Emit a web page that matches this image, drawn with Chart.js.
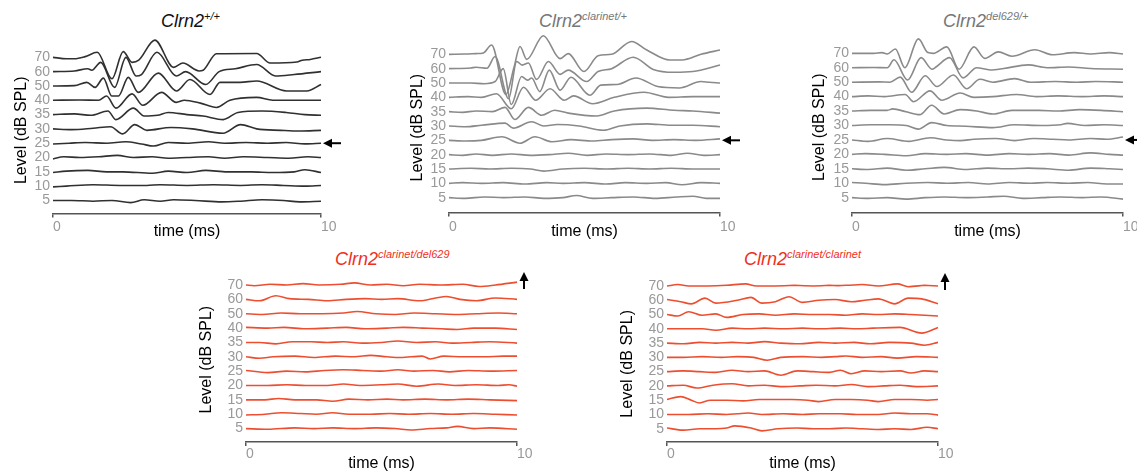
<!DOCTYPE html>
<html lang="en">
<head>
<meta charset="UTF-8">
<title>ABR traces</title>
<script src="https://cdn.jsdelivr.net/npm/chart.js"></script>
<style>
  body { margin: 0; width: 1137px; height: 471px; overflow: hidden; background: #fff; position: relative;
         font-family: "Liberation Sans", Arial, sans-serif; }
  canvas { position: absolute; }
  .ttl { position: absolute; font-style: italic; font-size: 18px; line-height: 18px; white-space: nowrap; }
  .ttl sup { font-size: 11px; position: relative; top: -7px; vertical-align: baseline; line-height: 0; }
</style>
</head>
<body>
<div class="ttl" style="left:161px;top:12px;color:#111">Clrn2<sup>+/+</sup></div>
<div class="ttl" style="left:539px;top:12px;color:#777">Clrn2<sup>clarinet/+</sup></div>
<div class="ttl" style="left:943px;top:12px;color:#777">Clrn2<sup>del629/+</sup></div>
<div class="ttl" style="left:335px;top:250px;color:#f0301e">Clrn2<sup>clarinet/del629</sup></div>
<div class="ttl" style="left:744px;top:250px;color:#f0301e">Clrn2<sup>clarinet/clarinet</sup></div>
<canvas id="c1"></canvas>
<canvas id="c2"></canvas>
<canvas id="c3"></canvas>
<canvas id="c4"></canvas>
<canvas id="c5"></canvas>
<script>
// stimulus levels, top trace first
const levels = ['70', '60', '50', '40', '35', '30', '25', '20', '15', '10', '5'];

// each trace: [time ms, deflection in trace spacings], 70 dB first
const wtTraces = [
  [[0,0],[0.5,-0.1],[0.8,-0.1],[1.2,0.05],[1.65,0.35],[2.2,-1.5],[2.62,0.4],[2.95,-0.35],[3.2,-0.2],[3.8,1.2],[4.5,-0.7],[4.85,-0.4],[5.45,-0.95],[5.6,-0.9],[6.1,0.25],[7.6,0.27],[8.1,-0.4],[9.1,-0.33],[9.3,-0.2],[9.6,-0.15],[10,0]],
  [[0,0],[0.8,0.05],[1.3,0.2],[1.45,0.1],[1.78,0.65],[2.3,-1.1],[2.72,1.0],[3.1,-0.3],[3.3,-0.2],[3.88,1.35],[4.6,-0.3],[4.95,0.0],[5.7,-0.9],[6.2,0],[6.8,0.2],[7.6,0.5],[8.3,-0.3],[9,-0.2],[10,0]],
  [[0,0],[0.8,0.02],[1.26,0.25],[1.57,-0.1],[1.88,0.55],[2.19,-0.7],[2.44,-0.7],[2.81,0.6],[3.18,-0.45],[3.93,0.9],[4.61,-0.35],[5.11,0.45],[5.86,-0.6],[6.23,0.25],[6.98,0.25],[7.6,0.35],[8.72,-0.35],[9.47,-0.35],[10,0.1]],
  [[0,0],[1.0,0.02],[1.7,0.0],[2.0,0.3],[2.35,-0.55],[2.95,0.45],[3.35,-0.35],[4.05,0.55],[4.6,-0.15],[4.9,0.0],[5.5,-0.2],[6.1,-0.5],[6.6,0.0],[7.6,0.2],[8.2,0.0],[9,0.0],[10,0]],
  [[0,0],[0.8,0.05],[1.4,-0.05],[2.05,0.25],[2.35,-0.35],[3.0,0.45],[3.4,-0.1],[3.9,-0.05],[4.3,0.15],[5.0,0.0],[5.6,-0.1],[6.35,-0.35],[6.9,0.15],[7.8,0.25],[8.7,0.15],[9.4,0.0],[10,-0.05]],
  [[0,0],[0.7,-0.05],[1.5,0.05],[2.15,0.15],[2.6,-0.35],[3.05,0.3],[3.5,-0.1],[4.4,0.1],[5.2,0.0],[6.35,-0.3],[7.0,0.3],[7.6,0.0],[8.5,-0.1],[9.2,-0.15],[10,-0.1]],
  [[0,-0.05],[0.6,0.0],[1.2,0.05],[2.0,0.0],[2.7,0.1],[3.3,-0.05],[3.75,-0.2],[4.3,0.05],[5.0,0.0],[5.8,0.1],[6.4,0.0],[7.2,0.05],[8.0,0.0],[8.7,0.05],[9.4,-0.05],[10,0.0]],
  [[0,-0.1],[0.4,0.05],[1.0,0.0],[1.7,0.05],[2.4,0.15],[3.0,0.0],[3.7,0.05],[4.3,-0.05],[5.0,0.0],[5.8,0.05],[6.4,-0.05],[7.1,0.05],[8.0,0.0],[8.8,-0.05],[9.5,0.05],[10,0.0]],
  [[0,-0.05],[0.5,0.05],[1.3,0.1],[2.0,0.0],[2.6,0.0],[3.7,-0.1],[4.3,0.05],[5.0,-0.05],[5.7,0.1],[6.5,0.0],[7.4,0.0],[8.2,-0.05],[9.0,0.0],[9.4,0.15],[10,-0.05]],
  [[0,-0.05],[0.5,0.0],[1.5,0.1],[2.5,0.05],[3.5,0.05],[4.0,0.1],[5.0,0.05],[6.0,0.1],[7.0,0.05],[7.8,0.1],[8.6,0.05],[9.4,0.0],[10,0.05]],
  [[0,0],[0.7,0.0],[1.5,-0.05],[2.2,0.0],[2.9,-0.15],[3.4,0.05],[4.0,-0.05],[4.5,0.05],[5.3,0.0],[6.3,-0.1],[7.0,-0.05],[7.8,0.05],[8.6,0.0],[9.2,-0.1],[10,-0.05]]
];

const clarHetTraces = [
  [[0,0],[0.6,0.02],[1.0,0.05],[1.27,0.1],[1.57,0.65],[2.1,-2.8],[2.4,-0.9],[2.62,0.55],[2.87,-0.35],[3.48,1.3],[4.1,-0.3],[4.4,0.05],[4.98,-1.2],[5.5,-0.1],[6.0,0.0],[6.74,0.9],[7.3,0.3],[8.15,-0.4],[8.6,-0.4],[9.3,0.0],[10,0.3]],
  [[0,0],[0.8,0.05],[1.0,0.1],[1.4,0.03],[1.7,0.85],[2.2,-2.1],[2.5,0.5],[2.7,0.25],[2.93,0.4],[3.23,-0.75],[3.67,0.5],[4.1,-0.4],[4.4,-0.1],[5.08,-0.9],[5.5,-0.2],[6.0,0.0],[6.8,0.8],[7.54,-0.05],[8.3,-0.25],[9.0,-0.2],[10,0.25]],
  [[0,0],[0.8,0.0],[1.3,-0.05],[1.7,0.1],[2.0,1.0],[2.3,-1.5],[2.68,0.45],[2.9,0.2],[3.05,0.35],[3.35,-0.6],[3.7,0.9],[4.1,-0.5],[4.5,0.4],[5.2,-0.85],[5.6,-0.15],[6.2,-0.1],[6.9,0.35],[7.7,-0.25],[8.5,-0.35],[9.3,0.1],[9.6,0.05],[10,0.0]],
  [[0,0],[0.7,0.05],[1.2,0.0],[1.75,0.25],[2.3,-0.8],[2.75,0.7],[3.2,-0.2],[3.73,0.6],[4.25,-0.2],[4.6,0.1],[5.3,-0.45],[6.1,0.0],[7.2,0.35],[8.1,0.0],[9.0,0.05],[10,0.05]],
  [[0,0],[0.5,-0.05],[1.0,0.05],[1.6,0.0],[2.07,0.3],[2.43,-0.55],[2.93,0.3],[3.42,-0.25],[3.9,0.1],[4.4,-0.1],[5.45,-0.3],[6.1,0.05],[7.3,0.25],[8.3,0.1],[9.0,0.05],[10,-0.1]],
  [[0,0],[0.6,-0.05],[1.2,0.05],[2.07,0.2],[2.37,-0.15],[3.05,0.3],[3.5,0.0],[4.0,0.1],[4.8,0.0],[5.7,-0.3],[6.3,0.0],[7.3,0.15],[8.2,0.05],[9.0,0.05],[10,-0.05]],
  [[0,0],[0.6,-0.05],[1.2,0.0],[1.95,0.25],[2.62,-0.2],[3.17,0.25],[3.8,-0.1],[4.5,0.05],[5.3,-0.05],[6.0,0.05],[6.8,0.1],[7.5,0.0],[8.3,0.05],[9.1,0.0],[10,0.1]],
  [[0,0],[0.5,-0.05],[1.0,0.05],[1.6,-0.05],[2.3,0.05],[3.0,-0.05],[3.7,0.0],[4.4,0.1],[5.1,-0.05],[5.8,0.05],[6.6,0.0],[7.4,0.05],[8.2,-0.05],[8.8,0.1],[9.4,-0.05],[10,0.0]],
  [[0,0],[0.8,0.05],[1.5,0.0],[2.3,0.05],[3.0,0.0],[3.5,-0.15],[4.2,0.0],[5.0,0.05],[5.8,0.0],[6.6,0.05],[7.4,0.0],[8.2,0.05],[9.0,0.0],[10,0.0]],
  [[0,0],[0.5,0.05],[1.2,0.0],[2.0,0.05],[2.8,-0.05],[3.6,0.05],[4.2,0.0],[5.0,0.05],[5.8,-0.05],[6.5,0.05],[7.3,0.0],[8.0,0.05],[8.6,-0.1],[9.3,0.05],[10,0.0]],
  [[0,0],[0.6,-0.05],[1.3,0.05],[2.0,0.0],[2.8,0.05],[3.5,-0.05],[4.2,0.0],[4.7,0.15],[5.3,-0.05],[6.0,0.0],[6.8,0.05],[7.6,-0.05],[8.4,0.05],[9.0,0.1],[9.5,-0.05],[10,-0.05]]
];

const delHetTraces = [
  [[0,0],[0.8,0.0],[1.1,0.05],[1.3,-0.05],[1.6,0.3],[1.95,-1.0],[2.45,1.0],[2.8,0.05],[3.0,0.0],[3.5,0.45],[3.95,-1.1],[4.5,0.45],[4.9,-0.35],[5.4,0.1],[5.9,-0.2],[6.75,0.25],[7.4,-0.1],[8.2,0.05],[8.8,-0.05],[9.5,0.05],[10,-0.05]],
  [[0,0],[0.8,0.02],[1.3,0.0],[1.55,0.55],[2.05,-0.85],[2.55,0.7],[2.95,-0.1],[3.1,0.05],[3.6,0.7],[4.1,-0.7],[4.6,0.0],[5.1,-0.15],[5.6,-0.05],[6.5,0.2],[7.2,0.0],[8.0,0.05],[8.8,-0.05],[10,-0.1]],
  [[0,0],[1.0,0.02],[1.4,0.0],[1.78,0.35],[2.2,-0.7],[2.7,0.45],[3.13,-0.3],[3.74,0.5],[4.23,-0.45],[4.72,0.2],[5.2,0.0],[6.0,0.25],[6.6,0.0],[7.5,0.05],[8.3,0.0],[9.0,0.05],[10,0.0]],
  [[0,0],[0.6,0.05],[1.2,0.0],[1.96,0.15],[2.27,-0.35],[2.88,0.4],[3.31,-0.25],[3.99,0.25],[4.5,-0.05],[5.2,0.0],[6.07,0.15],[6.8,0.0],[7.6,0.05],[8.5,0.0],[9.3,0.05],[10,0.0]],
  [[0,0],[0.7,0.05],[1.3,0.05],[1.5,0.15],[2.0,-0.05],[2.5,-0.25],[2.94,0.4],[3.4,-0.2],[3.99,0.1],[4.6,0.0],[5.2,-0.2],[5.9,0.05],[6.9,0.05],[7.6,0.0],[8.4,0.1],[9.2,0.05],[10,-0.05]],
  [[0,0],[0.7,0.05],[1.4,0.05],[2.0,0.0],[2.45,-0.25],[2.94,0.2],[3.5,0.0],[4.2,-0.05],[5.2,-0.15],[6.0,0.05],[7.0,0.0],[7.7,0.05],[7.95,0.15],[8.6,0.0],[9.3,0.05],[10,0.0]],
  [[0,0],[0.6,-0.1],[1.3,0.1],[2.1,-0.1],[2.9,0.15],[3.5,0.0],[4.0,-0.05],[4.5,0.05],[5.3,0.1],[6.0,-0.05],[6.7,0.1],[7.4,0.05],[8.0,0.0],[8.8,0.1],[9.4,0.05],[10,0.2]],
  [[0,0],[0.5,0.05],[1.2,0.0],[2.0,-0.1],[2.7,0.05],[3.5,0.0],[4.2,0.05],[5.0,-0.05],[5.8,0.05],[6.5,0.0],[7.3,0.05],[8.0,-0.05],[8.8,0.1],[9.5,0.0],[10,-0.05]],
  [[0,0],[0.6,-0.05],[1.3,0.05],[2.0,-0.1],[2.7,0.0],[3.4,0.1],[4.2,-0.05],[5.0,0.05],[5.8,0.0],[6.5,0.05],[7.2,0.0],[8.0,-0.1],[8.8,0.05],[9.5,0.0],[10,-0.05]],
  [[0,0.05],[0.5,0.0],[1.2,-0.1],[2.0,0.0],[2.8,0.05],[3.5,0.0],[4.3,0.05],[5.0,-0.05],[5.8,0.05],[6.6,0.0],[7.2,0.05],[8.0,0.0],[8.7,0.05],[9.4,-0.05],[10,-0.05]],
  [[0,0],[0.6,-0.05],[1.3,0.0],[2.0,-0.1],[2.7,0.0],[3.4,0.05],[4.2,0.0],[5.0,0.05],[5.6,0.1],[6.3,-0.05],[7.0,0.0],[7.7,0.05],[8.5,0.0],[9.2,0.05],[10,-0.1]]
];

const clarDelTraces = [
  [[0,0],[0.3,-0.05],[0.9,0.05],[1.5,0.0],[2.1,0.1],[2.7,0.0],[3.5,0.05],[4.0,0.15],[4.6,0.0],[5.2,0.05],[5.8,-0.05],[6.4,0.05],[7.2,0.0],[8.0,0.05],[8.6,-0.1],[9.2,0.0],[10,0.2]],
  [[0,0.0],[0.5,-0.1],[1.1,0.25],[1.6,0.05],[2.3,0.0],[3.0,-0.1],[3.7,0.0],[4.4,0.05],[5.0,0.0],[5.6,0.05],[6.4,-0.1],[7.0,0.1],[7.4,0.2],[7.9,0.0],[8.5,-0.1],[9.2,0.1],[10,0.0]],
  [[0,0.0],[0.6,-0.05],[1.3,0.05],[2.0,0.0],[2.8,0.0],[3.6,0.05],[4.1,0.15],[4.8,0.0],[5.5,-0.05],[6.2,0.05],[7.0,0.0],[7.8,-0.05],[8.5,0.0],[9.3,0.05],[10,0.0]],
  [[0,0.05],[0.8,0.0],[1.4,0.05],[2.2,-0.05],[3.0,0.0],[3.7,0.05],[4.4,-0.05],[5.2,0.0],[5.8,0.05],[6.5,0.0],[7.2,-0.05],[7.8,-0.1],[8.4,0.0],[9.2,0.0],[10,-0.1]],
  [[0,0.0],[0.5,0.0],[1.1,-0.1],[1.7,0.05],[2.4,0.05],[3.0,0.0],[3.6,0.05],[4.3,-0.05],[5.0,0.0],[5.6,0.1],[6.3,0.0],[7.0,0.05],[7.6,-0.05],[8.3,0.0],[9.0,0.05],[10,-0.05]],
  [[0,0.0],[0.5,-0.1],[1.0,0.0],[1.8,0.05],[2.5,-0.05],[3.3,0.05],[4.0,0.0],[4.6,0.1],[5.2,0.0],[5.7,-0.05],[6.5,0.05],[6.8,-0.15],[7.3,0.05],[8.0,0.0],[8.8,0.0],[9.5,0.05],[10,0.05]],
  [[0,0.05],[0.8,-0.1],[1.5,0.0],[2.2,-0.05],[2.9,0.05],[3.6,0.1],[4.3,0.05],[5.0,0.0],[5.6,0.1],[6.2,0.0],[6.9,0.05],[7.5,-0.05],[8.2,0.05],[9.0,0.0],[10,0.05]],
  [[0,0.0],[0.8,0.0],[1.5,0.05],[2.2,0.0],[3.0,0.0],[3.6,0.1],[4.2,0.0],[5.0,0.05],[5.6,0.1],[6.3,-0.05],[7.1,0.1],[7.7,0.0],[8.5,0.05],[9.3,0.0],[9.7,0.05],[10,-0.05]],
  [[0,0.0],[0.7,0.0],[1.2,0.1],[1.8,0.0],[2.6,0.0],[3.2,-0.1],[3.8,0.05],[4.5,0.0],[5.2,0.05],[5.8,0.0],[6.6,0.05],[7.4,0.0],[8.2,0.05],[9.0,0.0],[10,-0.05]],
  [[0,-0.05],[0.7,0.0],[1.3,0.1],[2.0,0.05],[2.6,0.0],[3.2,0.1],[3.8,0.0],[4.6,0.0],[5.3,0.05],[6.0,0.0],[6.8,0.05],[7.6,0.0],[8.4,0.05],[9.2,0.0],[10,-0.05]],
  [[0,0.0],[0.8,-0.05],[1.8,0.05],[2.5,0.0],[3.2,0.05],[4.0,0.0],[4.8,0.05],[5.5,0.0],[6.1,-0.1],[6.8,0.0],[7.4,0.05],[7.8,0.15],[8.4,0.0],[9.0,0.05],[10,-0.05]]
];

const clarHomTraces = [
  [[0,0.0],[0.4,0.1],[0.8,0.0],[1.5,0.0],[2.2,0.05],[2.9,0.15],[3.3,0.0],[4.0,0.0],[4.7,0.05],[5.4,0.0],[6.0,0.05],[6.6,0.05],[7.2,0.1],[7.8,0.0],[8.5,0.15],[8.9,-0.05],[9.5,0.05],[10,0.0]],
  [[0,0.05],[0.5,-0.1],[0.9,-0.25],[1.4,0.15],[1.8,-0.2],[2.6,0.0],[3.1,0.2],[3.5,-0.2],[4.0,-0.1],[4.5,0.25],[5.0,-0.15],[5.6,0.0],[6.2,0.05],[6.8,-0.1],[7.3,0.0],[7.8,0.1],[8.4,-0.25],[8.9,0.15],[9.4,0.1],[10,-0.25]],
  [[0,0.0],[0.4,-0.1],[0.8,0.2],[1.3,-0.05],[1.8,0.05],[2.2,-0.2],[2.8,0.0],[3.4,0.05],[4.0,-0.05],[4.7,0.05],[5.4,0.0],[6.0,0.0],[6.6,-0.05],[7.2,0.05],[7.8,0.0],[8.4,0.05],[9.0,0.0],[10,-0.1]],
  [[0,0.0],[0.6,0.0],[1.3,0.0],[1.8,-0.1],[2.4,0.05],[3.0,0.0],[3.6,0.05],[4.3,0.0],[5.0,0.05],[5.6,0.0],[6.4,0.05],[7.0,0.0],[7.6,0.05],[8.6,0.1],[9.4,-0.3],[10,0.1]],
  [[0,0.0],[0.6,-0.05],[1.2,0.05],[1.8,0.0],[2.4,0.05],[3.0,0.0],[3.6,0.1],[4.2,0.0],[4.9,-0.05],[5.6,0.05],[6.2,0.0],[6.9,0.05],[7.5,-0.05],[8.2,0.05],[9.0,0.0],[9.5,-0.15],[10,0.05]],
  [[0,0.0],[0.6,0.0],[1.3,0.05],[2.0,0.0],[2.6,0.05],[3.2,0.0],[3.7,-0.2],[4.2,0.0],[5.0,0.05],[5.7,0.0],[6.2,0.05],[6.6,0.1],[7.2,0.0],[7.9,0.05],[8.5,-0.05],[9.2,0.05],[10,0.0]],
  [[0,0.0],[0.6,0.05],[1.2,0.0],[1.8,-0.05],[2.4,0.1],[3.0,0.0],[3.6,0.05],[4.2,-0.25],[4.8,0.05],[5.4,0.0],[6.0,-0.05],[6.4,0.1],[6.8,-0.15],[7.3,0.05],[7.9,0.0],[8.6,0.05],[9.0,-0.1],[9.5,0.05],[10,0.0]],
  [[0,0.0],[0.6,0.05],[1.1,-0.15],[1.7,0.05],[2.4,0.15],[3.0,0.0],[3.6,0.05],[4.2,-0.05],[4.9,0.0],[5.5,0.05],[6.2,0.0],[6.8,0.1],[7.4,-0.05],[8.0,0.0],[8.6,0.05],[9.2,-0.05],[10,0.0]],
  [[0,0.05],[0.5,0.25],[0.9,0.0],[1.2,-0.2],[1.6,0.0],[2.2,0.0],[2.8,-0.05],[3.4,0.05],[4.0,0.05],[4.6,0.05],[5.2,0.0],[5.6,-0.1],[6.2,0.05],[6.8,0.05],[7.4,0.0],[7.8,-0.1],[8.4,0.05],[9.0,0.05],[9.6,0.0],[10,0.05]],
  [[0,0.0],[0.8,0.0],[1.5,0.05],[2.2,0.0],[2.6,0.05],[3.0,0.1],[3.5,0.0],[4.3,0.05],[5.0,0.0],[5.6,0.05],[6.4,0.05],[7.0,0.0],[7.8,0.0],[8.4,0.1],[9.0,0.05],[9.6,0.05],[10,-0.05]],
  [[0,0.05],[0.6,-0.1],[1.2,0.0],[1.8,0.0],[2.2,0.05],[2.5,0.2],[3.1,0.05],[3.5,-0.15],[4.1,0.0],[4.8,0.05],[5.4,0.0],[6.0,0.0],[6.6,0.05],[7.2,0.0],[7.8,-0.05],[8.4,0.0],[9.0,-0.05],[9.6,0.1],[10,0.0]]
];

Chart.defaults.font.family = '"Liberation Sans", Arial, sans-serif';

// little threshold arrows next to the panels
const arrowPlugin = {
  id: 'arrow',
  afterDraw(chart, args, opts) {
    const { ctx, chartArea, scales } = chart;
    ctx.save();
    ctx.fillStyle = '#000';
    ctx.strokeStyle = '#000';
    ctx.lineWidth = 2;
    if (opts.dir === 'left') {
      const y = scales.y.getPixelForValue(opts.at);
      const tip = chartArea.right + 2;
      ctx.beginPath(); ctx.moveTo(tip + 6, y); ctx.lineTo(tip + 18, y); ctx.stroke();
      ctx.beginPath(); ctx.moveTo(tip, y); ctx.lineTo(tip + 9, y - 4.5); ctx.lineTo(tip + 9, y + 4.5); ctx.closePath(); ctx.fill();
    } else if (opts.dir === 'up') {
      const y = scales.y.getPixelForValue(opts.at);
      const x = chartArea.right + 7;
      const tip = y - 13;
      ctx.beginPath(); ctx.moveTo(x, tip + 6); ctx.lineTo(x, y + 4); ctx.stroke();
      ctx.beginPath(); ctx.moveTo(x, tip); ctx.lineTo(x - 4.5, tip + 9); ctx.lineTo(x + 4.5, tip + 9); ctx.closePath(); ctx.fill();
    }
    ctx.restore();
  }
};

const panels = [
  { id: 'c1', traces: wtTraces, color: '#303030', left: 8, top: 28, x0: 53, x1: 321, y70: 57.3, y5: 200, axisY: 213, titleY: 130, xH: 27.5, tickPad: 1, arrow: 'left' },
  { id: 'c2', traces: clarHetTraces, color: '#8a8a8a', left: 404, top: 25, x0: 449, x1: 720, y70: 54.3, y5: 197.3, axisY: 212, titleY: 127.5, xH: 28.6, tickPad: 2, arrow: 'left' },
  { id: 'c3', traces: delHetTraces, color: '#8a8a8a', left: 806, top: 25, x0: 852, x1: 1123, y70: 53.3, y5: 197.3, axisY: 212, titleY: 127, xH: 28.6, tickPad: 2, arrow: 'left' },
  { id: 'c4', traces: clarDelTraces, color: '#ee4e30', left: 193, top: 258, x0: 246, x1: 517, y70: 285, y5: 428.3, axisY: 441.7, titleY: 359.5, xH: 31, tickPad: 0, arrow: 'up' },
  { id: 'c5', traces: clarHomTraces, color: '#ee4e30', left: 614, top: 258, x0: 667, x1: 938, y70: 286, y5: 429, axisY: 442.3, titleY: 364, xH: 31, tickPad: 0, arrow: 'up' }
];

panels.forEach(p => {
  const cv = document.getElementById(p.id);
  const padRight = 26;
  const areaTop = 2 * p.titleY - p.axisY;
  const ppu = (p.y5 - p.y70) / 10;
  cv.width = Math.round(p.x1 - p.left + padRight);
  cv.height = Math.round(p.axisY + p.xH - p.top);
  cv.style.left = p.left + 'px';
  cv.style.top = p.top + 'px';

  const n = levels.length - 1;
  const datasets = p.traces.map((tr, i) => ({
    data: tr.map(([t, v]) => ({ x: t, y: (n - i) + v })),
    borderColor: p.color,
    borderWidth: 1.6,
    pointRadius: 0,
    fill: false,
    cubicInterpolationMode: 'monotone',
    clip: false
  }));

  new Chart(cv, {
    type: 'line',
    data: { datasets },
    plugins: [arrowPlugin],
    options: {
      responsive: false,
      animation: false,
      layout: { padding: { top: areaTop - p.top, right: padRight, left: 0, bottom: 0 } },
      plugins: {
        legend: { display: false },
        tooltip: { enabled: false },
        arrow: { dir: p.arrow, at: p.arrow === 'up' ? n : 4 }
      },
      scales: {
        x: {
          type: 'linear', min: 0, max: 10,
          afterBuildTicks: s => { s.ticks = [{ value: 0 }, { value: 10 }]; },
          afterFit: s => { s.height = p.xH; },
          ticks: { color: '#999', font: { size: 14 }, padding: p.tickPad, align: 'start', maxRotation: 0 },
          grid: { drawOnChartArea: false, drawTicks: true, tickLength: 4, color: '#555', lineWidth: 1.5 },
          border: { display: true, color: '#555', width: 1.5 },
          title: { display: true, text: 'time (ms)', color: '#000', font: { size: 16 }, padding: 0 }
        },
        y: {
          type: 'linear',
          min: -(p.axisY - p.y5) / ppu,
          max: n + (p.y70 - areaTop) / ppu,
          afterBuildTicks: s => { s.ticks = levels.map((_, i) => ({ value: i })); },
          afterFit: s => { s.width = p.x0 - p.left; },
          ticks: { color: '#999', font: { size: 14 }, padding: 3, autoSkip: false,
                   callback: v => levels[n - Math.round(v)] },
          grid: { display: false, drawTicks: false },
          border: { display: false },
          title: { display: true, text: 'Level (dB SPL)', color: '#000', font: { size: 16 }, padding: { top: 4, bottom: 4 } }
        }
      }
    }
  });
});
</script>
</body>
</html>
